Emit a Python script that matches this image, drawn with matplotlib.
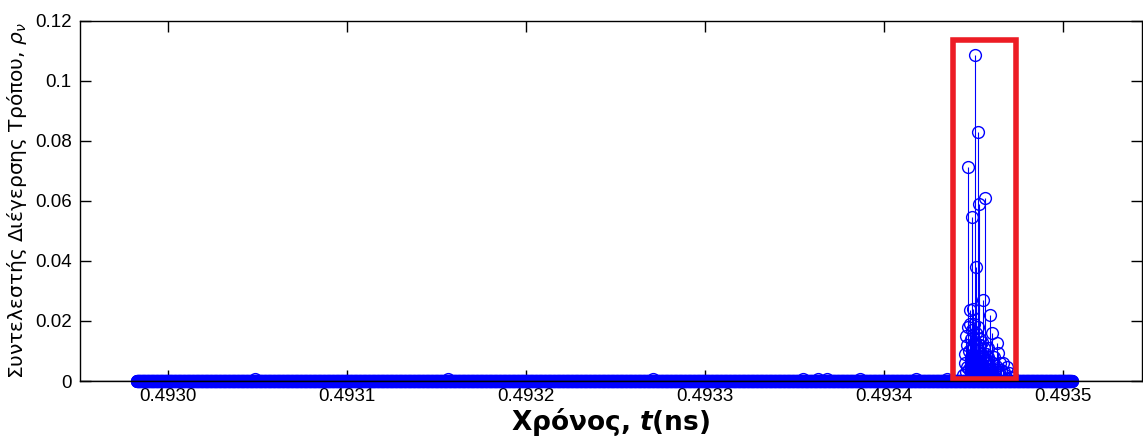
import numpy as np
import matplotlib.pyplot as plt
from matplotlib.patches import Rectangle

plt.rcParams['font.family'] = ['Liberation Sans', 'DejaVu Sans']
plt.rcParams['mathtext.fontset'] = 'custom'
plt.rcParams['mathtext.rm'] = 'DejaVu Sans:bold'
plt.rcParams['mathtext.it'] = 'DejaVu Sans:italic:bold'
plt.rcParams['mathtext.sf'] = 'DejaVu Sans:italic'

# time samples where the coefficient is zero (ns)
t_start, t_end, n_flat = 0.4929824, 0.4935050, 2600

# tiny non-zero samples along the flat part
bump_t = [0.49304860, 0.49315642, 0.49327095, 0.49335475, 0.49336313,
          0.49336816, 0.49338659, 0.49341788, 0.49343520]
bump_rho = [0.0007] * len(bump_t)

# excitation burst
peak_t = [0.49344413, 0.49344525, 0.49344581, 0.49344637, 0.49344693,
          0.49344749, 0.49344805, 0.49344860, 0.49344916, 0.49344972,
          0.49345028, 0.49345084, 0.49345140, 0.49345196, 0.49345251,
          0.49345307, 0.49345363, 0.49345419, 0.49345475, 0.49345531,
          0.49345587, 0.49345643, 0.49345698, 0.49345754, 0.49345810,
          0.49345866, 0.49345922, 0.49345978, 0.49346034, 0.49346089,
          0.49346145, 0.49346201, 0.49346257, 0.49346313, 0.49346369,
          0.49346425, 0.49346480, 0.49346536, 0.49346648, 0.49346704,
          0.49346760, 0.49346872, 0.49346983, 0.49347095, 0.49347207]
peak_rho = [0.0020, 0.0060, 0.0030, 0.0045, 0.0713,
            0.0040, 0.0236, 0.0030, 0.0546, 0.0240,
            0.0080, 0.1085, 0.0380, 0.0050, 0.0830,
            0.0590, 0.0120, 0.0060, 0.0090, 0.0270,
            0.0045, 0.0609, 0.0040, 0.0070, 0.0110,
            0.0050, 0.0220, 0.0040, 0.0160, 0.0060,
            0.0080, 0.0035, 0.0050, 0.0126, 0.0093,
            0.0030, 0.0060, 0.0035, 0.0060, 0.0030,
            0.0020, 0.0047, 0.0025, 0.0015, 0.0010]

# in-between samples of the burst
mid_t = [0.49344553, 0.49344609, 0.49344665, 0.49344721, 0.49344777,
         0.49344833, 0.49344888, 0.49344944, 0.49345000, 0.49345056,
         0.49345112, 0.49345168, 0.49345223, 0.49345279, 0.49345335,
         0.49345391, 0.49345447, 0.49345503, 0.49345559, 0.49345615,
         0.49345670, 0.49345726, 0.49345782, 0.49345838]
mid_rho = [0.009, 0.015, 0.012, 0.018, 0.010, 0.019, 0.014, 0.017,
           0.011, 0.019, 0.013, 0.016, 0.010, 0.018, 0.012, 0.014,
           0.009, 0.013, 0.008, 0.011, 0.007, 0.009, 0.006, 0.008]

# highlight box around the burst
box_t = (0.4934388, 0.4934737)
box_rho = (0.0008, 0.1135)

t_flat = np.linspace(t_start, t_end, n_flat)
t = np.concatenate([t_flat, bump_t, peak_t, mid_t])
rho = np.concatenate([np.zeros(n_flat), bump_rho, peak_rho, mid_rho])
order = np.argsort(t)
t, rho = t[order], rho[order]

fig = plt.figure(figsize=(11.43, 4.45), dpi=100)
ax = fig.add_axes([0.0700, 0.1438, 0.9291, 0.8101])

markers, stems, base = ax.stem(t, rho, linefmt='-', markerfmt='o', basefmt=' ')
stems.set_color('#0000ff')
stems.set_linewidth(0.8)
markers.set_color('#0000ff')
markers.set_markerfacecolor('none')
markers.set_markersize(8.5)
markers.set_markeredgewidth(1.0)
markers.set_clip_on(False)

ax.axhline(0, color='k', lw=1.0, zorder=4)
ax.add_patch(Rectangle((box_t[0], box_rho[0]), box_t[1] - box_t[0],
                       box_rho[1] - box_rho[0], fill=False,
                       edgecolor='#ed1c24', lw=4, zorder=5))

ax.set_xlim(0.49295084, 0.49354413)
ax.set_ylim(0, 0.12)
xt = [0.4930, 0.4931, 0.4932, 0.4933, 0.4934, 0.4935]
ax.set_xticks(xt)
ax.set_xticklabels(['%.4f' % v for v in xt])
yt = [0, 0.02, 0.04, 0.06, 0.08, 0.1, 0.12]
ax.set_yticks(yt)
ax.set_yticklabels(['0', '0.02', '0.04', '0.06', '0.08', '0.1', '0.12'])
ax.tick_params(direction='in', length=8, width=1, top=True, right=True,
               labelsize=13.5, colors='k')
ax.tick_params(axis='x', pad=5)
ax.tick_params(axis='y', pad=6)
for s in ax.spines.values():
    s.set_linewidth(1)
    s.set_zorder(6)

ax.set_xlabel(r'Χρόνος, $\mathit{t}$(ns)', fontsize=19, fontweight='bold',
              family='DejaVu Sans', labelpad=1)
ax.set_ylabel(r'Συντελεστής Διέγερσης Τρόπου, $\mathsf{ρ_ν}$', fontsize=14.5,
              family='DejaVu Sans', labelpad=4)

fig.savefig('out.png', dpi=100)
